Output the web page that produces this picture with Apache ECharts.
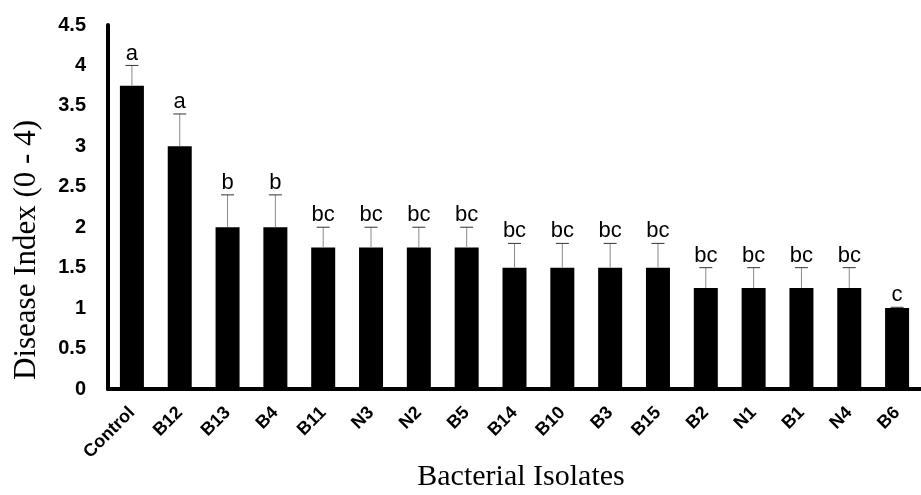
<!DOCTYPE html>
<html><head><meta charset="utf-8">
<script src="https://cdn.jsdelivr.net/npm/echarts@6/dist/echarts.min.js"></script>
<style>html,body{margin:0;padding:0;background:#fff}#c{width:921px;height:495px}</style>
</head><body><div id="c"></div>
<script>
var categories = ['Control','B12','B13','B4','B11','N3','N2','B5','B14','B10','B3','B15','B2','N1','B1','N4','B6'];
var values = [3.75,3.0,2.0,2.0,1.75,1.75,1.75,1.75,1.5,1.5,1.5,1.5,1.25,1.25,1.25,1.25,1.0];
var errors = [0.25,0.4,0.4,0.4,0.25,0.25,0.25,0.25,0.3,0.3,0.3,0.3,0.25,0.25,0.25,0.25,0.01];
var letters = ['a','a','b','b','bc','bc','bc','bc','bc','bc','bc','bc','bc','bc','bc','bc','c'];
var yTitle = 'Disease Index (0 - 4)';
var xTitle = 'Bacterial Isolates';

var chart = echarts.init(document.getElementById('c'));
var errData = categories.map(function(c,i){ return [i, values[i], values[i]+errors[i], letters[i]]; });
chart.setOption({
  animation:false,
  grid:{left:108,right:-11,top:25,bottom:106},
  xAxis:{type:'category',data:categories,
    axisLine:{lineStyle:{color:'#000',width:4}},
    axisTick:{show:false},
    axisLabel:{rotate:45,interval:0,margin:21,color:'#000',fontWeight:'bold',fontSize:18,fontFamily:'Liberation Sans'}},
  yAxis:{type:'value',min:0,max:4.5,interval:0.5,
    axisLine:{show:true,lineStyle:{color:'#000',width:4}},
    axisTick:{show:false},splitLine:{show:false},
    axisLabel:{margin:22,color:'#000',fontWeight:'bold',fontSize:20,fontFamily:'Liberation Sans'}},
  graphic:[
    {type:'text',x:521,y:492,style:{text:xTitle,font:'30px "Liberation Serif"',fill:'#000',textAlign:'center',textVerticalAlign:'bottom'}},
    {type:'text',x:27,y:250,rotation:Math.PI/2,style:{text:yTitle,font:'31px "Liberation Serif"',fill:'#000',textAlign:'center',textVerticalAlign:'middle'}}
  ],
  series:[
    {type:'bar',data:values,barWidth:24,itemStyle:{color:'#000'}},
    {type:'custom',data:errData,z:5,
      renderItem:function(params,api){
        var x = api.value(0);
        var p0 = api.coord([x, api.value(1)]);
        var p1 = api.coord([x, api.value(2)]);
        var cap = 6.5;
        return {type:'group',children:[
          {type:'line',shape:{x1:p0[0],y1:p0[1],x2:p1[0],y2:p1[1]},style:{stroke:'#8a8a8a',lineWidth:1}},
          {type:'line',shape:{x1:p1[0]-cap,y1:p1[1],x2:p1[0]+cap,y2:p1[1]},style:{stroke:'#333',lineWidth:1}},
          {type:'text',x:p1[0],y:p1[1]-1,style:{text:api.value(3),textAlign:'center',textVerticalAlign:'bottom',font:'22px "Liberation Sans"',fill:'#000'}}
        ]};
      }}
  ]
});
</script></body></html>
